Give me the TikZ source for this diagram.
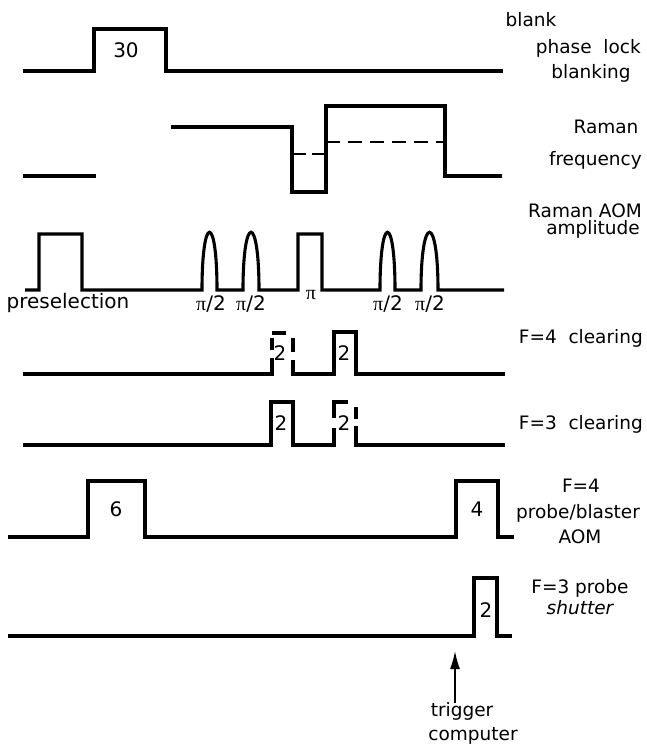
\documentclass[tikz,border=0pt]{standalone}
\usepackage{fontspec}
\setmainfont{DejaVu Sans}
\newfontfamily\pifont{Liberation Serif}
\usetikzlibrary{arrows.meta}
\tikzset{
  sig/.style={line width=3.1pt, line join=miter, line cap=butt},
  dsig/.style={line width=2.8pt, dash pattern=on 14pt off 8pt},
  lbl/.style={inner sep=0pt, font=\fontsize{18.5}{21}\selectfont, anchor=base},
  lble/.style={lbl, anchor=base east},
  num/.style={inner sep=0pt, font=\fontsize{20}{22}\selectfont},
  pil/.style={inner sep=0pt, font=\fontsize{20}{22}\selectfont},
}
\newcommand{\piq}{{\pifont π}/2}
\begin{document}
\begin{tikzpicture}[x=1pt,y=-1pt]
\useasboundingbox (0,0) rectangle (647,744);
% Row 1: phase lock blanking
\draw[sig] (23,71) -- (94,71) -- (94,29) -- (166,29) -- (166,71) -- (503,71);
\node[num] (n30) at (126,50) {30};
\node[lbl] (lblank) at (531,27) {blank};
\node[lble] (lphase) at (641,53) {phase\ \ lock};
\node[lbl] (lblanking) at (591,78) {blanking};
% Row 2: Raman frequency
\draw[sig] (23,176) -- (96,176);
\draw[sig] (171,127) -- (292,127) -- (292,192) -- (326,192) -- (326,106) -- (445,106) -- (445,176) -- (502,176);
\draw[line width=2.6pt, dash pattern=on 14pt off 6pt] (292,154) -- (326,154);
\draw[dsig] (326,142) -- (445,142);
\node[lbl] (lraman) at (606,133) {Raman};
\node[lble] (lfreq) at (642,165) {frequency};
% Row 3: Raman AOM amplitude
\draw[sig] (25,290) -- (39,290) -- (39,234) -- (82,234) -- (82,290) -- (202,290)
  .. controls (202,213) and (217,213) .. (217,290) -- (243,290)
  .. controls (243,213) and (259,213) .. (259,290) -- (298,290) -- (298,234) -- (322,234) -- (322,290) -- (380,290)
  .. controls (380,213) and (395,213) .. (395,290) -- (421,290)
  .. controls (421,213) and (438,213) .. (438,290) -- (504,290);
\node[lble] (laom) at (642,217) {Raman AOM};
\node[lble] (lamp) at (640,234) {amplitude};
\node[pil] (lpre) at (68,303) {preselection};
\node[pil] (p1) at (211,304) {\piq};
\node[pil] (p2) at (251,304) {\piq};
\node[pil] (p3) at (311,295) {\pifont π};
\node[pil] (p4) at (388,304) {\piq};
\node[pil] (p5) at (430,304) {\piq};
% Row 4: F=4 clearing
\draw[sig] (23,374) -- (272,374) -- (272,358);
\draw[sig] (272,350) -- (272,338);
\draw[sig] (272,333) -- (286,333);
\draw[sig] (293,338) -- (293,352);
\draw[sig] (293,360) -- (293,374) -- (334,374) -- (334,332) -- (356,332) -- (356,374) -- (505,374);
\node[num] (c41) at (280,353) {2};
\node[num] (c42) at (344,353) {2};
\node[lble] (lf4c) at (643,343) {F=4\ \ clearing};
% Row 5: F=3 clearing
\draw[sig] (23,445) -- (271,445) -- (271,402) -- (293,402) -- (293,445) -- (334,445) -- (334,428);
\draw[sig] (334,418) -- (334,402) -- (348,402);
\draw[sig] (356,407) -- (356,419);
\draw[sig] (356,426) -- (356,445) -- (505,445);
\node[num] (c51) at (281,423) {2};
\node[num] (c52) at (344,423) {2};
\node[lble] (lf3c) at (643,429) {F=3\ \ clearing};
% Row 6: F=4 probe/blaster AOM
\draw[sig] (8,537) -- (88,537) -- (88,481) -- (145,481) -- (145,537) -- (456,537) -- (456,481) -- (498,481) -- (498,537) -- (514,537);
\node[num] (n6) at (116,509) {6};
\node[num] (n4) at (477,509) {4};
\node[lbl] (lf4) at (581,492) {F=4};
\node[lbl] (lprobe) at (578,518) {probe/blaster};
\node[lbl] (lAOM) at (580,543) {AOM};
% Row 7: F=3 probe shutter
\draw[sig] (8,636) -- (474,636) -- (474,578) -- (497,578) -- (497,636) -- (512,636);
\node[num] (n2) at (486,610) {2};
\node[lbl] (lf3p) at (580,593) {F=3 probe};
\node[lbl, font=\fontsize{18.5}{21}\selectfont\itshape] (lshut) at (580,614) {shutter};
% Trigger arrow
\node[lbl] (trig) at (462,716) {trigger};
\node[lbl] (comp) at (473,740) {computer};
\coordinate (tip) at (455,651);
\draw[line width=1.6pt, -{Latex[length=18pt,width=10pt]}] (455,703) -- (tip);
\end{tikzpicture}
\end{document}
